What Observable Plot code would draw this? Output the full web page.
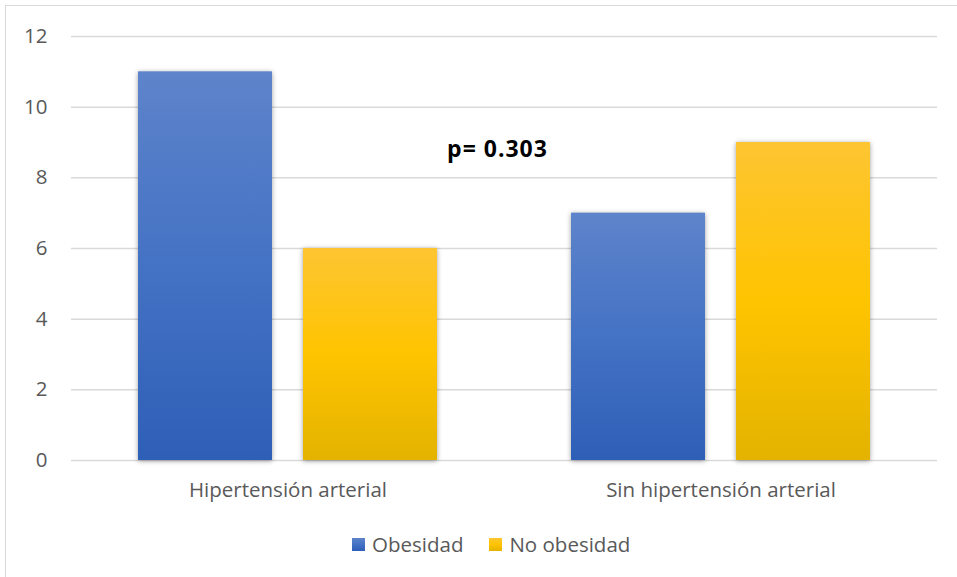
<!DOCTYPE html>
<html>
<head>
<meta charset="utf-8">
<script src="https://cdn.jsdelivr.net/npm/d3@7"></script>
<script src="https://cdn.jsdelivr.net/npm/@observablehq/plot@0.6"></script>
<style>
  html, body { margin: 0; padding: 0; width: 957px; height: 577px; overflow: hidden; background: #fff; }
  body { font-family: "Open Sans", sans-serif; position: relative; }
  #frame { position: absolute; left: 5px; top: 5px; width: 1000px; height: 1000px; border: 1.5px solid #d9d9d9; box-sizing: border-box; }
  #chart { position: absolute; left: 0; top: 0; }
  #chart .bar rect { filter: drop-shadow(0 1.5px 2.5px rgba(0, 0, 0, 0.38)); }
  #chart .pvalue text { letter-spacing: 1px; }
  #legend { position: absolute; left: 352px; top: 530px; height: 28px; display: flex; align-items: center; font-size: 20.5px; color: #595959; white-space: nowrap; }
  #legend .item { display: flex; align-items: center; }
  #legend .item + .item { margin-left: 26px; }
  #legend .swatch { width: 13px; height: 13px; margin-right: 7px; }
</style>
</head>
<body>
<div id="frame"></div>
<div id="chart"></div>
<div id="legend"></div>
<script>
// Categories, series and counts
const categories = ["Hipertensión arterial", "Sin hipertensión arterial"];
const series = ["Obesidad", "No obesidad"];
const obesidad = [11, 7];
const noObesidad = [6, 9];
const yTicks = [0, 2, 4, 6, 8, 10, 12];
const pValueLabel = "p= 0.303";

// Vertical gradients for each series: light top, base middle, dark bottom
const gradients = {
  "Obesidad": { id: "grad-obesidad", stops: ["#5e84cb", "#4472c4", "#2e5fb7"] },
  "No obesidad": { id: "grad-no-obesidad", stops: ["#fdc532", "#ffc400", "#e3b300"] }
};

const rows = categories.flatMap((category, i) => [
  { category, series: series[0], value: obesidad[i] },
  { category, series: series[1], value: noObesidad[i] }
]);

const svg = Plot.plot({
  width: 957,
  height: 515,
  marginLeft: 70,
  marginRight: 20,
  marginTop: 36,
  marginBottom: 55,
  style: { fontFamily: '"Open Sans", sans-serif', fontSize: "20.5px", color: "#595959", background: "transparent", overflow: "visible" },
  fx: { domain: categories, padding: 0, axis: "bottom", tickSize: 0, tickPadding: 22, label: null },
  x: { domain: series, paddingInner: 0.1867, paddingOuter: 0.399, axis: null },
  y: { domain: [0, 12], ticks: yTicks, tickSize: 0, tickPadding: 24, label: null },
  color: { domain: series, range: series.map(s => `url(#${gradients[s].id})`) },
  marks: [
    Plot.gridY(yTicks, { stroke: "#d9d9d9", strokeOpacity: 1, strokeWidth: 1.5 }),
    Plot.barY(rows, { fx: "category", x: "series", y: "value", fill: "series", className: "bar" }),
    Plot.text([{ category: categories[0], label: pValueLabel }], {
      fx: "category",
      text: "label",
      frameAnchor: "top-right",
      textAnchor: "middle",
      lineAnchor: "middle",
      dx: -7,
      dy: 113,
      fill: "#000",
      fontWeight: "bold",
      fontSize: 23,
      className: "pvalue"
    })
  ]
});

// Gradient definitions referenced by the bar fills
const defs = d3.select(svg).insert("defs", ":first-child");
for (const s of series) {
  const g = gradients[s];
  const lg = defs.append("linearGradient").attr("id", g.id).attr("x1", 0).attr("y1", 0).attr("x2", 0).attr("y2", 1);
  g.stops.forEach((c, i) => lg.append("stop").attr("offset", `${i * 50}%`).attr("stop-color", c));
}

document.getElementById("chart").appendChild(svg);

// Legend below the plot
const legend = d3.select("#legend");
for (const s of series) {
  const item = legend.append("div").attr("class", "item");
  const [top, mid, bottom] = gradients[s].stops;
  item.append("div").attr("class", "swatch").style("background", `linear-gradient(${top}, ${mid} 50%, ${bottom})`);
  item.append("span").text(s);
}
</script>
</body>
</html>
